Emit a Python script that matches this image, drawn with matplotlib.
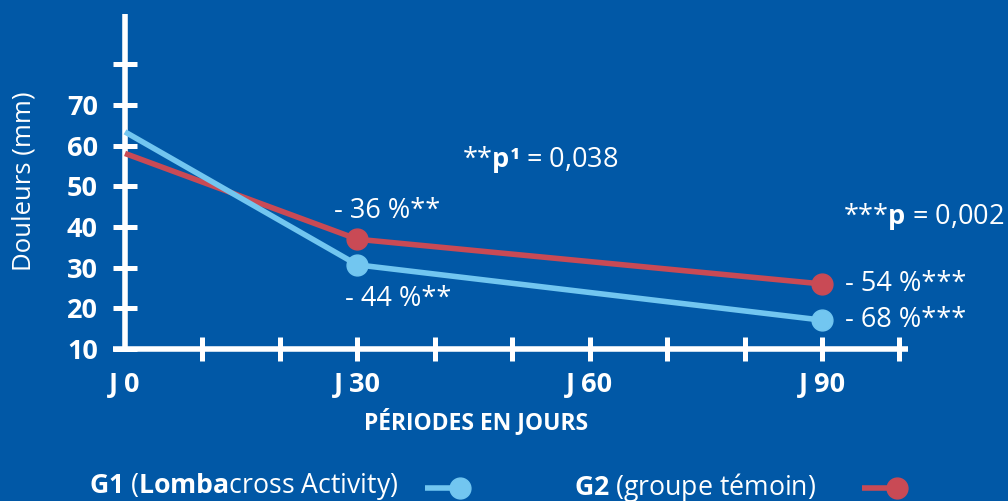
import matplotlib
matplotlib.use("Agg")
import matplotlib.pyplot as plt
from matplotlib.lines import Line2D

# data
jours = [0, 30, 90]
g1 = [63.4, 30.7, 17.1]   # G1 (Lombacross Activity)
g2 = [58.1, 37.0, 26.0]   # G2 (groupe témoin)
g1_labels = ["", "- 44 %**", "- 68 %***"]
g2_labels = ["", "- 36 %**", "- 54 %***"]
xticks_major = [0, 30, 60, 90]
xticklabels = ["J 0", "J 30", "J 60", "J 90"]
xticks_minor = [10, 20, 40, 50, 70, 80, 100]
yticks = [10, 20, 30, 40, 50, 60, 70, 80]
yticklabels = ["10", "20", "30", "40", "50", "60", "70", ""]
p_texts = [r"**$\mathbf{p¹}$ = 0,038", r"***$\mathbf{p}$ = 0,002"]
legend_texts = [r"$\mathbf{G1}$ ($\mathbf{Lomba}$cross Activity)",
                r"$\mathbf{G2}$ (groupe témoin)"]

BG = "#0158a6"
C1 = "#72c6f0"
C2 = "#c94a55"
W = "white"
FS = 19.5
LW = 4.0

plt.rcParams["font.family"] = ["Open Sans", "DejaVu Sans"]
plt.rcParams["mathtext.fontset"] = "custom"
plt.rcParams["mathtext.rm"] = "Open Sans"
plt.rcParams["mathtext.bf"] = "Open Sans:bold"
plt.rcParams["mathtext.it"] = "Open Sans:italic"

fig = plt.figure(figsize=(10.08, 5.01), dpi=100, facecolor=BG)
ax = fig.add_axes([113/1008, 1-349/501, 795/1008, 335/501])
ax.set_facecolor(BG)
ax.set_xlim(-1.55, 101.1)
ax.set_ylim(10, 92.4)

for s in ["top", "right"]:
    ax.spines[s].set_visible(False)
ax.spines["left"].set_position(("data", 0))
for s in ["left", "bottom"]:
    ax.spines[s].set_color(W)
    ax.spines[s].set_linewidth(4)
    ax.spines[s].set_capstyle("butt")

ax.set_xticks(xticks_major)
ax.set_xticklabels(xticklabels)
ax.set_xticks(xticks_minor, minor=True)
ax.set_yticks(yticks)
ax.set_yticklabels(yticklabels)
ax.tick_params(axis="both", which="both", direction="inout", length=17,
               width=3.6, color=W, labelcolor=W, labelsize=FS)
ax.tick_params(axis="x", which="both", pad=8)
ax.tick_params(axis="y", pad=11)
ax.xaxis.get_major_ticks()[0].tick1line.set_visible(False)
for lab in ax.get_xticklabels() + ax.get_yticklabels():
    lab.set_fontweight("bold")

ax.plot(jours, g2, color=C2, lw=LW, marker="o", markevery=[1, 2],
        markersize=15, solid_capstyle="butt", zorder=3, clip_on=False)
ax.plot(jours, g1, color=C1, lw=LW, marker="o", markevery=[1, 2],
        markersize=15, solid_capstyle="butt", zorder=3, clip_on=False)

# percentage labels
offs1 = {1: (-9, -24.5), 2: (16.5, 0)}
offs2 = {1: (-17, 20.5), 2: (16.5, 0)}
for i, (x, y) in enumerate(zip(jours, g1)):
    if g1_labels[i]:
        ax.annotate(g1_labels[i], (x, y), xytext=offs1[i], textcoords="offset points",
                    ha="left", va="center", color=W, fontsize=FS)
for i, (x, y) in enumerate(zip(jours, g2)):
    if g2_labels[i]:
        ax.annotate(g2_labels[i], (x, y), xytext=offs2[i], textcoords="offset points",
                    ha="left", va="center", color=W, fontsize=FS)

# p values
ax.text(43.5, 56.5, p_texts[0], ha="left", va="center", color=W, fontsize=FS)
ax.text(92.7, 42.7, p_texts[1], ha="left", va="center", color=W, fontsize=FS)

fig.text(24/1008, 1-181/501, "Douleurs (mm)", color=W, fontsize=18.5,
         rotation=90, ha="center", va="center")
ax.set_xlabel("PÉRIODES EN JOURS", color=W, fontsize=16.5, fontweight="bold")
ax.xaxis.set_label_coords(0.4566, -0.218)
ax.xaxis.label.set_va("center")

# legend
ftr = fig.transFigure
for x0, txt, c, lx in [(89, legend_texts[0], C1, 425), (574, legend_texts[1], C2, 862)]:
    fig.text(x0/1008, 1-487/501, txt, ha="left", va="center", color=W, fontsize=19.2)
    fig.add_artist(Line2D([lx/1008, (lx+35)/1008], [1-488/501]*2, color=c, lw=LW,
                          transform=ftr, solid_capstyle="butt"))
    fig.add_artist(Line2D([(lx+35)/1008], [1-488/501], color=c, marker="o",
                          markersize=15, transform=ftr))

fig.savefig("out.png", dpi=100, facecolor=BG)
